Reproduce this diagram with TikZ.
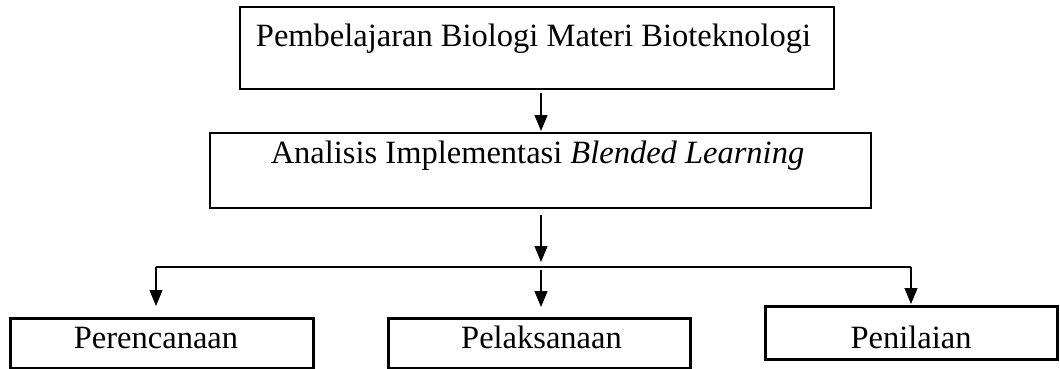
\documentclass[tikz,border=0pt]{standalone}
\usepackage{fontspec}
\setmainfont{Liberation Serif}
\usetikzlibrary{arrows.meta}
\begin{document}
\begin{tikzpicture}[x=1pt,y=-1pt,
  box/.style={draw=black,line width=2pt,inner sep=0pt},
  lowbox/.style={draw=black,line width=3pt,inner sep=0pt,minimum height=50pt},
  txt/.style={anchor=base,inner sep=0pt,font=\fontsize{32.5}{34}\selectfont},
  conn/.style={line width=1.1pt},
  arr/.style={line width=1.1pt,-{Triangle[width=13pt,length=16pt]}}]
\useasboundingbox (0,0) rectangle (1060,369);
% boxes
\node[box,minimum width=594pt,minimum height=82pt] (top) at (537,48) {};
\node[txt] (toptext) at (533.5,47) {Pembelajaran Biologi Materi Bioteknologi};
\node[box,minimum width=661pt,minimum height=75pt] (mid) at (540.5,170.5) {};
\node[txt] (midtext) at (537.5,163) {Analisis Implementasi \textit{Blended Learning}};
\node[lowbox,minimum width=303pt] (b1) at (161.5,343) {};
\node[txt] (t1) at (156,348) {Perencanaan};
\node[lowbox,minimum width=302pt] (b2) at (539,343) {};
\node[txt] (t2) at (541.5,348) {Pelaksanaan};
\node[lowbox,minimum width=292pt,minimum height=53pt] (b3) at (911,332.5) {};
\node[txt] (t3) at (911,348) {Penilaian};
% connectors
\coordinate (a1s) at (541,93);
\coordinate (a1e) at (541,131);
\draw[arr] (a1s) -- (a1e);
\coordinate (a2s) at (541,215);
\coordinate (a2e) at (541,262);
\draw[arr] (a2s) -- (a2e);
\coordinate (hl) at (156,267);
\coordinate (hr) at (911,267);
\draw[conn] (hl) -- (hr);
\coordinate (m2) at (541,270);
\draw[arr] (hl) -- (156,306);
\draw[arr] (m2) -- (541,307);
\draw[arr] (hr) -- (911,304);
\end{tikzpicture}
\end{document}
